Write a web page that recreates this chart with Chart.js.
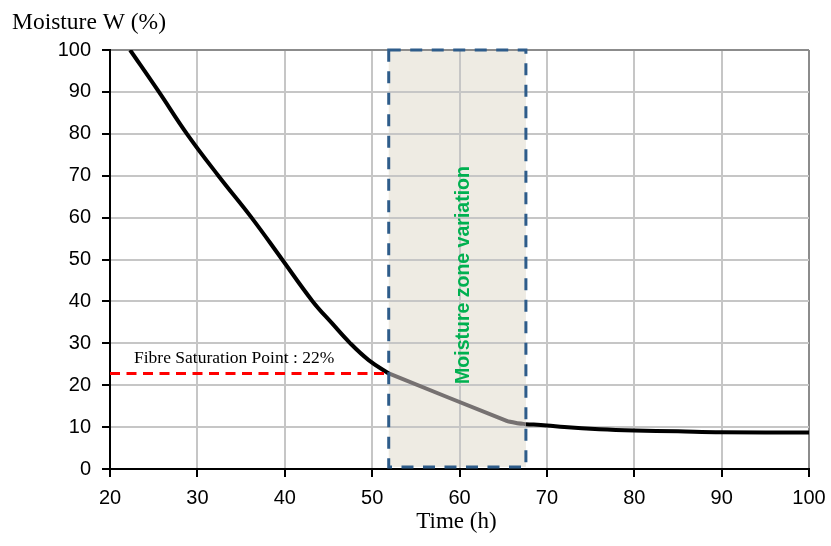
<!DOCTYPE html>
<html>
<head>
<meta charset="utf-8">
<script src="https://cdn.jsdelivr.net/npm/chart.js@4/dist/chart.umd.min.js"></script>
<style>
html,body{margin:0;padding:0;background:#fff;}
#wrap{width:831px;height:546px;}
</style>
</head>
<body>
<div id="wrap"><canvas id="c" width="831" height="546"></canvas></div>
<script>
// ---- data ----
// drying curve, first part (black)
const dryTime = [22.3, 25.6, 28.8, 32.4, 36.2, 39.7, 43.2, 45.4, 47.5, 49.6, 51.9];
const dryMoisture = [100, 90, 80, 70, 60, 50, 40, 34.8, 30, 26.0, 22.8];
// drying curve inside the moisture zone (grey)
const zoneTime = [51.9, 65.4, 66.5, 67.6];
const zoneMoisture = [22.8, 11.5, 11.0, 10.7];
// drying curve, tail (black)
const tailTime = [67.6, 70.0, 72.0, 76.0, 80.0, 85.0, 90.0, 100.0];
const tailMoisture = [10.7, 10.4, 10.0, 9.5, 9.2, 9.0, 8.8, 8.7];
// fibre saturation point line (red dashed)
const fspTime = [20, 51.9];
const fspMoisture = [22.8, 22.8];
// moisture zone box
const zoneStart = 51.9;
const zoneEnd = 67.6;
const zoneLow = 0.5;
const zoneHigh = 100;
const xTickValues = [20, 30, 40, 50, 60, 70, 80, 90, 100];
const yTickValues = [0, 10, 20, 30, 40, 50, 60, 70, 80, 90, 100];
const yTitle = 'Moisture W (%)';
const xTitle = 'Time (h)';
const fspLabel = 'Fibre Saturation Point : 22%';
const zoneLabel = 'Moisture zone variation';

const toPts = (xs, ys) => xs.map((t, i) => ({x: t, y: ys[i]}));

const overlay = {
  id: 'overlay',
  beforeDraw(chart) {
    const {ctx, scales: {x, y}} = chart;
    const l = x.getPixelForValue(zoneStart), r = x.getPixelForValue(zoneEnd);
    const t = y.getPixelForValue(zoneHigh), b = y.getPixelForValue(zoneLow);
    ctx.save();
    ctx.fillStyle = '#EEEBE3';
    ctx.fillRect(l, t, r - l, b - t);
    ctx.restore();
  },
  afterDatasetsDraw(chart) {
    const {ctx, scales: {x, y}, chartArea} = chart;
    const l = x.getPixelForValue(zoneStart), r = x.getPixelForValue(zoneEnd);
    const t = y.getPixelForValue(zoneHigh), b = y.getPixelForValue(zoneLow);
    ctx.save();
    ctx.strokeStyle = '#2E5C8A';
    ctx.lineWidth = 3;
    ctx.setLineDash([12, 9.5]);
    ctx.strokeRect(l, t, r - l, b - t);
    ctx.setLineDash([]);
    // zone label
    ctx.fillStyle = '#00B050';
    ctx.font = 'bold 19.5px "Liberation Sans", Arial, sans-serif';
    ctx.textAlign = 'center';
    ctx.textBaseline = 'middle';
    ctx.translate(x.getPixelForValue(60.5), 275);
    ctx.rotate(-Math.PI / 2);
    ctx.fillText(zoneLabel, 0, 0);
    ctx.restore();
    // FSP label
    ctx.save();
    ctx.fillStyle = '#000';
    ctx.font = '17.5px "Liberation Serif", "Times New Roman", serif';
    ctx.textAlign = 'left';
    ctx.textBaseline = 'alphabetic';
    ctx.fillText(fspLabel, 134, 363);
    // axis titles
    ctx.font = '23.5px "Liberation Serif", "Times New Roman", serif';
    ctx.fillText(yTitle, 12, 29);
    ctx.font = '23px "Liberation Serif", "Times New Roman", serif';
    ctx.textAlign = 'center';
    ctx.fillText(xTitle, (chartArea.left + chartArea.right) / 2 - 3, 528);
    ctx.restore();
  }
};

const gridCol = (ctx) => (ctx.tick && ctx.tick.value === 100) ? '#8c8c8c' : '#c6c6c6';

new Chart(document.getElementById('c'), {
  type: 'line',
  data: {
    datasets: [
      {
        data: toPts(fspTime, fspMoisture),
        borderColor: '#FF0000',
        borderWidth: 3,
        borderDash: [10, 6.5],
        pointRadius: 0,
        tension: 0
      },
      {
        data: toPts(dryTime, dryMoisture),
        borderColor: '#000',
        borderWidth: 4,
        pointRadius: 0,
        tension: 0.4
      },
      {
        data: toPts(zoneTime, zoneMoisture),
        borderColor: '#767171',
        borderWidth: 4,
        pointRadius: 0,
        tension: 0.2
      },
      {
        data: toPts(tailTime, tailMoisture),
        borderColor: '#000',
        borderWidth: 4,
        pointRadius: 0,
        tension: 0.4
      }
    ]
  },
  options: {
    responsive: false,
    animation: false,
    events: [],
    layout: {padding: {top: 50, right: 22, left: 0, bottom: 0}},
    plugins: {legend: {display: false}, tooltip: {enabled: false}, title: {display: false}},
    scales: {
      x: {
        type: 'linear',
        min: 20, max: 100,
        afterFit(s) { s.height = 77; s.paddingLeft = 0; s.paddingRight = 0; },
        afterBuildTicks(s) { s.ticks = xTickValues.map(v => ({value: v})); },
        border: {display: true, color: '#000', width: 2},
        grid: {color: gridCol, lineWidth: 2, drawTicks: true, tickLength: 8, tickColor: '#000', tickWidth: 2},
        ticks: {color: '#000', padding: 9, maxRotation: 0, font: {family: '"Liberation Sans", Arial, sans-serif', size: 20}}
      },
      y: {
        type: 'linear',
        min: 0, max: 100,
        afterFit(s) { s.width = 110; s.paddingTop = 0; s.paddingBottom = 0; },
        afterBuildTicks(s) { s.ticks = yTickValues.map(v => ({value: v})); },
        border: {display: true, color: '#000', width: 2},
        grid: {color: gridCol, lineWidth: 2, drawTicks: true, tickLength: 8, tickColor: '#000', tickWidth: 2},
        ticks: {color: '#000', padding: 11, font: {family: '"Liberation Sans", Arial, sans-serif', size: 20}}
      }
    }
  },
  plugins: [overlay]
});
</script>
</body>
</html>
